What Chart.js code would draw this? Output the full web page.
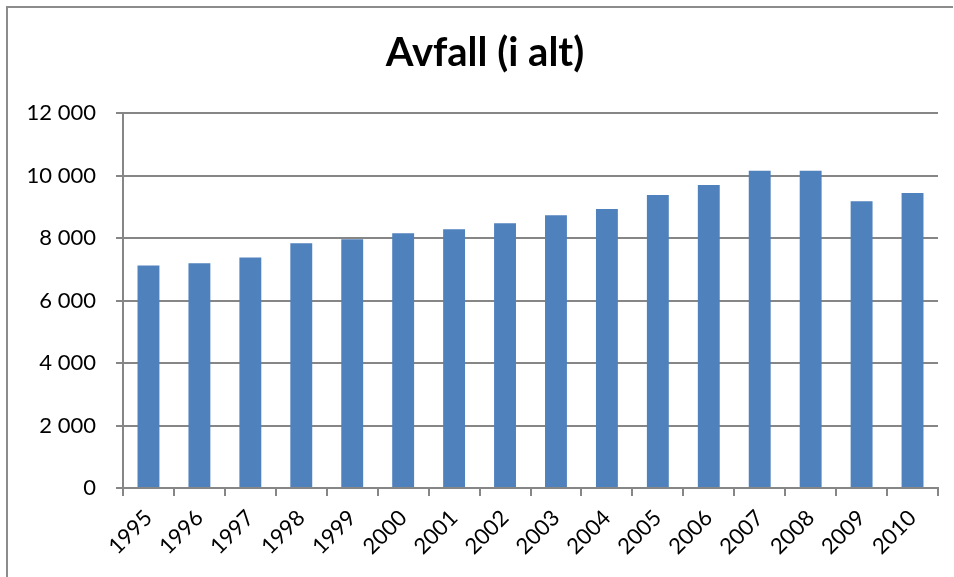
<!DOCTYPE html>
<html>
<head>
<meta charset="utf-8">
<script src="https://cdn.jsdelivr.net/npm/chart.js@4/dist/chart.umd.min.js"></script>
<style>
  html, body { margin: 0; padding: 0; background: #ffffff; }
  #wrap { width: 954px; height: 577px; position: relative; }
</style>
</head>
<body>
<div id="wrap"><canvas id="chart" width="954" height="577"></canvas></div>
<script>
// Waste totals per year
const years = ['1995','1996','1997','1998','1999','2000','2001','2002','2003','2004','2005','2006','2007','2008','2009','2010'];
const avfall = [7120, 7190, 7380, 7830, 7960, 8150, 8280, 8470, 8730, 8930, 9380, 9700, 10150, 10150, 9180, 9440];
const yTicks = [0, 2000, 4000, 6000, 8000, 10000, 12000];

const axisGray = '#868686';
const fontFamily = 'Lato, "Open Sans", sans-serif';

function formatThousands(v) {
  return String(v).replace(/\B(?=(\d{3})+(?!\d))/g, ' ');
}

// Frame lines along the top and left edge
const framePlugin = {
  id: 'frame',
  beforeDraw(chart) {
    const ctx = chart.ctx;
    ctx.save();
    ctx.fillStyle = '#ffffff';
    ctx.fillRect(0, 0, chart.width, chart.height);
    ctx.strokeStyle = '#8c8c8c';
    ctx.lineWidth = 2;
    ctx.beginPath();
    ctx.moveTo(7, chart.height);
    ctx.lineTo(7, 7);
    ctx.lineTo(chart.width - 1, 7);
    ctx.stroke();
    ctx.restore();
  }
};

new Chart(document.getElementById('chart'), {
  type: 'bar',
  data: {
    labels: years,
    datasets: [{
      data: avfall,
      backgroundColor: '#4f81bd',
      borderWidth: 0,
      categoryPercentage: 1.0,
      barPercentage: 0.43
    }]
  },
  options: {
    responsive: false,
    animation: false,
    devicePixelRatio: 1,
    layout: { padding: { top: 0, right: 0, bottom: 0, left: 16 } },
    plugins: {
      legend: { display: false },
      tooltip: { enabled: false },
      title: {
        display: true,
        text: 'Avfall (i alt)',
        color: '#000000',
        font: { family: fontFamily, size: 40, weight: 'bold' },
        padding: { top: 29, bottom: 36 }
      }
    },
    scales: {
      x: {
        offset: true,
        grid: {
          offset: true,
          drawOnChartArea: false,
          drawTicks: true,
          tickLength: 8,
          color: axisGray,
          lineWidth: 2
        },
        border: { color: axisGray, width: 2 },
        ticks: {
          color: '#000000',
          font: { family: fontFamily, size: 22 },
          minRotation: 45,
          maxRotation: 45,
          padding: 9
        },
        afterFit(scale) { scale.height = 89; }
      },
      y: {
        min: 0,
        max: 12000,
        afterBuildTicks(scale) { scale.ticks = yTicks.map(v => ({ value: v })); },
        grid: {
          color: axisGray,
          lineWidth: 2,
          drawTicks: true,
          tickLength: 7
        },
        border: { color: axisGray, width: 2 },
        ticks: {
          color: '#000000',
          font: { family: fontFamily, size: 22 },
          padding: 20,
          callback: (v) => formatThousands(v)
        },
        afterFit(scale) { scale.width = 107; }
      },
      // empty right-hand margin strip
      rightMargin: {
        type: 'linear',
        position: 'right',
        min: 0,
        max: 1,
        grid: { display: false },
        border: { display: false },
        ticks: { display: false },
        afterFit(scale) { scale.width = 16; }
      }
    }
  },
  plugins: [framePlugin]
});
</script>
</body>
</html>
